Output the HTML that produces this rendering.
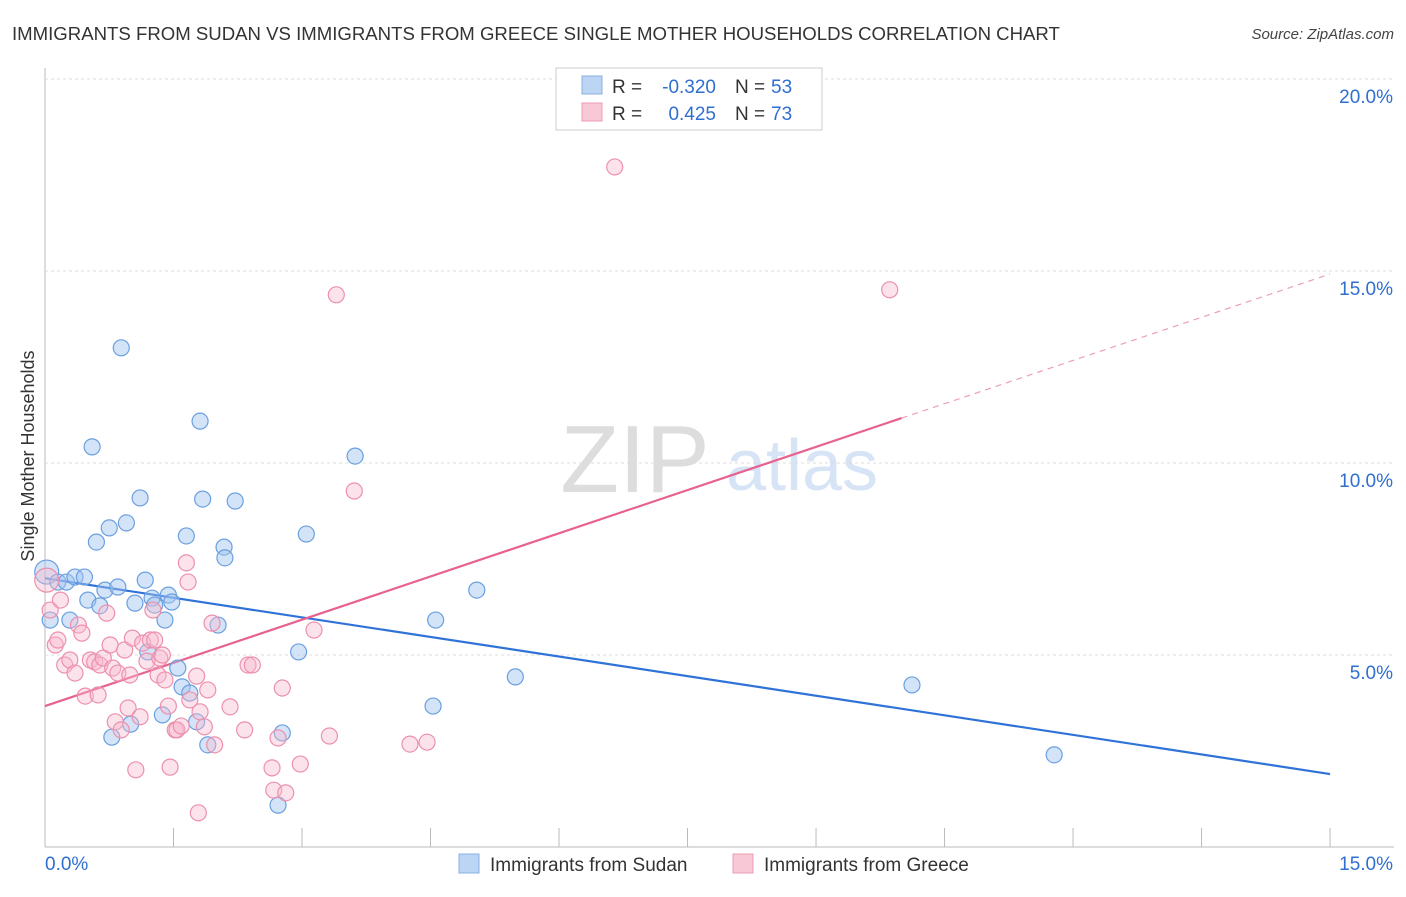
<!DOCTYPE html>
<html><head><meta charset="utf-8">
<style>
body{margin:0;background:#fff;font-family:"Liberation Sans",sans-serif;}
svg text{font-family:"Liberation Sans",sans-serif;}
</style></head>
<body>
<svg id="chart" width="1406" height="892" xmlns="http://www.w3.org/2000/svg">
<text x="12" y="40" font-size="18.6" fill="#333">IMMIGRANTS FROM SUDAN VS IMMIGRANTS FROM GREECE SINGLE MOTHER HOUSEHOLDS CORRELATION CHART</text>
<text x="1394" y="39" font-size="15" fill="#444" font-style="italic" text-anchor="end">Source: ZipAtlas.com</text>
<text transform="translate(34,456) rotate(-90)" font-size="18" fill="#333" text-anchor="middle">Single Mother Households</text>
<g>
<text x="635" y="492" font-size="96" fill="#ddd" font-family="Liberation Serif" text-anchor="middle">ZIP</text>
<text x="802" y="490" font-size="72" fill="#d6e4f5" text-anchor="middle">atlas</text>
</g>
<g id="grid"></g>
<g id="lines"></g>
<g id="pts"></g>
<g>
<rect x="556" y="68" width="266" height="62" fill="#fff" stroke="#ccc"/>
<rect x="582" y="76" width="20" height="18" fill="#bcd5f5" stroke="#8ab0e0"/>
<rect x="582" y="103" width="20" height="18" fill="#f9c8d6" stroke="#ec9bb3"/>
<text x="612" y="93" font-size="19" fill="#333">R =</text>
<text x="716" y="93" font-size="19" fill="#2f6fd0" text-anchor="end">-0.320</text>
<text x="735" y="93" font-size="19" fill="#333">N =</text>
<text x="771" y="93" font-size="19" fill="#2f6fd0">53</text>
<text x="612" y="120" font-size="19" fill="#333">R =</text>
<text x="716" y="120" font-size="19" fill="#2f6fd0" text-anchor="end">0.425</text>
<text x="735" y="120" font-size="19" fill="#333">N =</text>
<text x="771" y="120" font-size="19" fill="#2f6fd0">73</text>
</g>
<g>
<rect x="459" y="854" width="20" height="19" fill="#bcd5f5" stroke="#8ab0e0"/>
<text x="490" y="871" font-size="19" fill="#333">Immigrants from Sudan</text>
<rect x="733" y="854" width="20" height="19" fill="#f9c8d6" stroke="#ec9bb3"/>
<text x="764" y="871" font-size="19" fill="#333">Immigrants from Greece</text>
</g>
</svg>
<script>
const yTicks=[5,10,15,20];
const yTickLabels=["5.0%","10.0%","15.0%","20.0%"];
const xTickLabels=["0.0%","15.0%"];
const sudanX=[0.02,0.06,0.15,0.25,0.35,0.46,0.50,0.29,0.55,0.60,0.64,0.70,0.75,0.78,0.85,0.89,0.95,1.00,1.05,1.11,1.17,1.20,1.25,1.28,1.37,1.40,1.44,1.48,1.55,1.60,1.65,1.69,1.77,1.81,1.84,1.90,2.02,2.09,2.10,2.22,2.72,2.77,2.96,3.05,3.62,4.53,4.56,5.04,5.49,10.12,11.78];
const sudanY=[7.16,5.91,6.90,6.90,7.03,7.03,6.43,5.91,10.42,7.94,6.28,6.69,8.31,2.86,6.77,13.0,8.44,3.20,6.35,9.09,6.95,5.08,6.48,6.30,3.44,5.91,6.56,6.38,4.66,4.17,8.10,4.01,3.26,11.09,9.06,2.66,5.78,7.81,7.53,9.01,1.09,2.97,5.08,8.15,10.18,3.67,5.91,6.69,4.43,4.22,2.40];
const greeceX=[0.02,0.06,0.12,0.15,0.18,0.23,0.29,0.35,0.39,0.43,0.47,0.53,0.58,0.62,0.64,0.68,0.72,0.76,0.79,0.82,0.85,0.89,0.93,0.97,0.99,1.02,1.06,1.11,1.14,1.19,1.23,1.26,1.28,1.32,1.34,1.37,1.40,1.44,1.46,1.52,1.54,1.59,1.65,1.67,1.69,1.77,1.79,1.81,1.86,1.90,1.95,1.98,2.16,2.33,2.37,2.42,2.65,2.67,2.72,2.77,2.81,2.98,3.14,3.32,3.40,3.61,4.26,4.46,6.65,9.86];
const greeceY=[6.95,6.17,5.26,5.39,6.43,4.74,4.87,4.53,5.78,5.57,3.93,4.87,4.82,3.96,4.74,4.92,6.09,5.26,4.66,3.26,4.53,3.05,5.13,3.62,4.48,5.44,2.01,3.39,5.31,4.84,5.39,6.17,5.39,4.48,4.92,5.00,4.35,3.67,2.08,3.05,3.05,3.15,7.40,6.90,3.83,4.45,0.89,3.52,3.13,4.09,5.83,2.66,3.65,3.05,4.74,4.74,2.06,1.48,2.84,4.14,1.41,2.16,5.65,2.89,14.38,9.27,2.68,2.73,17.71,14.51];
const sudanTrend=[7.0,-0.34];
const greeceTrend=[3.67,0.75];
const X=v=>45+v*85.67, Y=v=>847-v*38.4;
const NS="http://www.w3.org/2000/svg";
function mk(tag,parent,attrs){const e=document.createElementNS(NS,tag);for(const k in attrs)e.setAttribute(k,attrs[k]);document.getElementById(parent).appendChild(e);return e;}
let e=mk('line','grid',{x1:45,x2:1394,y1:847,y2:847,stroke:'#bbb'});

e=mk('line','grid',{x1:45,x2:45,y1:68,y2:847,stroke:'#bbb'});

for(let i=0;i<=10;i++){e=mk('line','grid',{x1:X(i*1.5),x2:X(i*1.5),y1:828,y2:847,stroke:'#bbb'});
}
yTicks.forEach((t,i)=>{e=mk('line','grid',{x1:45,x2:1394,y1:Y(t),y2:Y(t),stroke:'#ddd','stroke-dasharray':'3,3'});

e=mk('text','grid',{x:1393,y:Y(t)+24,'font-size':19,fill:'#2f6fd0','text-anchor':'end'});e.textContent=yTickLabels[i];
});
e=mk('text','grid',{x:45,y:870,'font-size':19,fill:'#2f6fd0'});e.textContent=xTickLabels[0];

e=mk('text','grid',{x:1393,y:870,'font-size':19,fill:'#2f6fd0','text-anchor':'end'});e.textContent=xTickLabels[1];

sudanX.forEach((x,i)=>{e=mk('circle','pts',{cx:X(x),cy:Y(sudanY[i]),r:i==0?12:8,fill:'rgba(160,195,240,0.45)',stroke:'#6a9fe0','stroke-width':1.2});
});
greeceX.forEach((x,i)=>{e=mk('circle','pts',{cx:X(x),cy:Y(greeceY[i]),r:i==0?12:8,fill:'rgba(248,185,205,0.4)',stroke:'#ec90ad','stroke-width':1.2});
});
e=mk('line','lines',{x1:X(0),y1:Y(sudanTrend[0]),x2:X(15),y2:Y(sudanTrend[0]+15*sudanTrend[1]),stroke:'#2f72d8','stroke-width':2.2});

e=mk('line','lines',{x1:X(0),y1:Y(greeceTrend[0]),x2:X(10),y2:Y(greeceTrend[0]+10*greeceTrend[1]),stroke:'#e8628f','stroke-width':2.2});

e=mk('line','lines',{x1:X(10),y1:Y(greeceTrend[0]+10*greeceTrend[1]),x2:X(15),y2:Y(greeceTrend[0]+15*greeceTrend[1]),stroke:'#eaa0b8','stroke-width':1.2,'stroke-dasharray':'6,5'});

</script>
</body></html>
